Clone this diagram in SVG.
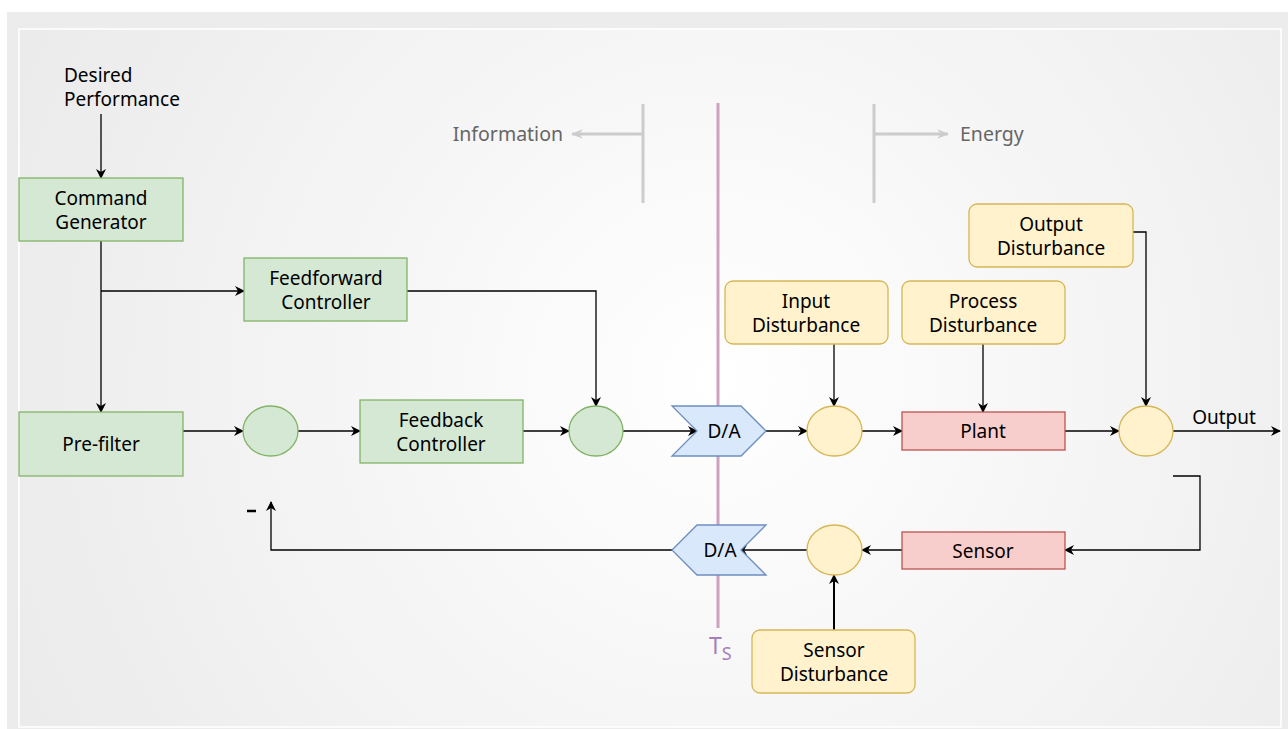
<svg xmlns="http://www.w3.org/2000/svg" width="1288" height="729" viewBox="0 0 1288 729">
<defs>
<radialGradient id="bg" cx="718" cy="380" r="760" gradientUnits="userSpaceOnUse">
<stop offset="0" stop-color="#ffffff"/>
<stop offset="1" stop-color="#ebebeb"/>
</radialGradient>
<marker id="ah" viewBox="0 0 10 10" refX="9" refY="5" markerWidth="10" markerHeight="10" markerUnits="userSpaceOnUse" orient="auto">
<path d="M0,0 L10,5 L0,10 L3,5 Z" fill="#000"/>
</marker>
<marker id="ahg" viewBox="0 0 10 10" refX="9" refY="5" markerWidth="12" markerHeight="12" markerUnits="userSpaceOnUse" orient="auto">
<path d="M0,1 L10,5 L0,9 L3,5 Z" fill="#cccccc"/>
</marker>
<style>
text{font-family:"Noto Sans","Liberation Sans",sans-serif;font-size:19px;fill:#000;text-anchor:middle}
.g{fill:#d5e8d4;stroke:#82b366;stroke-width:1.3}
.y{fill:#fff2cc;stroke:#d6b656;stroke-width:1.3}
.r{fill:#f8cecc;stroke:#b85450;stroke-width:1.3}
.b{fill:#dae8fc;stroke:#6c8ebf;stroke-width:1.3}
.c{fill:none;stroke:#000;stroke-width:1.3;marker-end:url(#ah)}
.gl{fill:none;stroke:#cccccc;stroke-width:3}
.gt{fill:#666;text-anchor:start}
</style>
</defs>
<rect x="7" y="12" width="1281" height="717" fill="#ececec"/>
<rect x="19" y="29" width="1262" height="698" fill="url(#bg)" stroke="#ffffff" stroke-width="1.5"/>

<g id="info-energy">
<line class="gl" x1="643" y1="104" x2="643" y2="203"/>
<line class="gl" x1="643" y1="134" x2="572" y2="134" marker-end="url(#ahg)"/>
<text class="gt" x="563" y="141" style="text-anchor:end;font-size:19.5px">Information</text>
<line class="gl" x1="874" y1="104" x2="874" y2="203"/>
<line class="gl" x1="874" y1="134" x2="948" y2="134" marker-end="url(#ahg)"/>
<text class="gt" x="960" y="141" style="font-size:19.5px">Energy</text>
</g>

<g id="ts-line">
<line x1="718" y1="103" x2="718" y2="628" stroke="#cda2be" stroke-width="3"/>
<text x="709" y="654" style="fill:#a680b8;text-anchor:start;font-size:23px">T<tspan font-size="18" dy="6">S</tspan></text>
</g>

<g id="connectors">
<line class="c" x1="101" y1="114" x2="101" y2="178"/>
<line class="c" x1="101" y1="241" x2="101" y2="412"/>
<polyline class="c" points="101,291 244,291"/>
<polyline class="c" points="407,291 596,291 596,406"/>
<line class="c" x1="183" y1="431" x2="243" y2="431"/>
<line class="c" x1="298" y1="431" x2="360" y2="431"/>
<line class="c" x1="523" y1="431" x2="569" y2="431"/>
<line class="c" x1="623" y1="431" x2="697" y2="431"/>
<line class="c" x1="766" y1="431" x2="807" y2="431"/>
<line class="c" x1="834" y1="344" x2="834" y2="406"/>
<line class="c" x1="862" y1="431" x2="902" y2="431"/>
<line class="c" x1="983" y1="344" x2="983" y2="412"/>
<line class="c" x1="1065" y1="431" x2="1119" y2="431"/>
<polyline class="c" points="1133,232 1146,232 1146,406"/>
<line class="c" x1="1173" y1="431" x2="1280" y2="431"/>
<polyline class="c" points="1173,476 1200,476 1200,550 1065,550"/>
<line class="c" x1="902" y1="550" x2="862" y2="550"/>
<line class="c" x1="834" y1="630" x2="834" y2="575" style="stroke-width:2"/>
<line class="c" x1="807" y1="550" x2="738" y2="550"/>
<polyline class="c" points="672,550 271,550 271,502"/>
</g>

<g id="desired"><text x="64" y="81.5" style="text-anchor:start">Desired</text><text x="64" y="105.5" style="text-anchor:start">Performance</text></g>
<g id="command-generator"><rect class="g" x="19" y="178" width="164" height="63"/><text x="101" y="205">Command</text><text x="101" y="228.5">Generator</text></g>
<g id="feedforward"><rect class="g" x="244" y="258" width="163" height="63"/><text x="326" y="285">Feedforward</text><text x="326" y="308.5">Controller</text></g>
<g id="prefilter"><rect class="g" x="19" y="412" width="164" height="64"/><text x="101" y="451">Pre-filter</text></g>
<g id="sum1"><ellipse class="g" cx="270.5" cy="431" rx="27.5" ry="25"/></g>
<g id="feedback"><rect class="g" x="360" y="400" width="163" height="63"/><text x="441" y="427">Feedback</text><text x="441" y="450.5">Controller</text></g>
<g id="sum2"><ellipse class="g" cx="596" cy="431" rx="27" ry="25"/></g>
<g id="da1"><polygon class="b" points="672,406 741,406 766,431 741,456 672,456 697,431"/><text x="724" y="438">D/A</text></g>
<g id="sum3"><ellipse class="y" cx="834.5" cy="431" rx="27.5" ry="25"/></g>
<g id="input-dist"><rect class="y" x="725" y="281" width="163" height="63" rx="8"/><text x="806" y="308">Input</text><text x="806" y="331.5">Disturbance</text></g>
<g id="process-dist"><rect class="y" x="902" y="281" width="163" height="63" rx="8"/><text x="983" y="308">Process</text><text x="983" y="331.5">Disturbance</text></g>
<g id="output-dist"><rect class="y" x="969" y="204" width="164" height="63" rx="8"/><text x="1051" y="231">Output</text><text x="1051" y="254.5">Disturbance</text></g>
<g id="plant"><rect class="r" x="902" y="412" width="163" height="38"/><text x="983" y="438">Plant</text></g>
<g id="sum4"><ellipse class="y" cx="1146" cy="431" rx="27" ry="25"/></g>
<g id="output-label"><text x="1224" y="424">Output</text></g>
<g id="sensor"><rect class="r" x="902" y="532" width="163" height="37"/><text x="983" y="557.5">Sensor</text></g>
<g id="sum5"><ellipse class="y" cx="834.5" cy="550" rx="27.5" ry="25"/></g>
<g id="sensor-dist"><rect class="y" x="752" y="630" width="163" height="63" rx="8"/><text x="834" y="657">Sensor</text><text x="834" y="680.5">Disturbance</text></g>
<g id="da2"><polygon class="b" points="672,550 697,525 766,525 741,550 766,575 697,575"/><text x="720" y="557">D/A</text></g>
<g id="minus"><line x1="247" y1="511" x2="256" y2="511" stroke="#000" stroke-width="2.5"/></g>
</svg>
